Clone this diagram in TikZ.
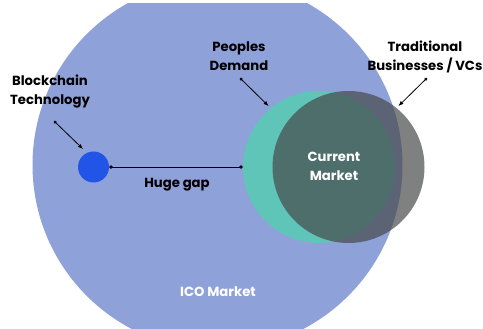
\documentclass[tikz,border=0pt]{standalone}
\usepackage{fontspec}
\setmainfont{Poppins}
\usetikzlibrary{arrows.meta}
\definecolor{icoblue}{RGB}{143,161,217}
\definecolor{chainblue}{RGB}{34,84,232}
\definecolor{demandteal}{RGB}{96,197,185}
\definecolor{tradgray}{RGB}{70,72,72}
\tikzset{
  lbl/.style={font=\bfseries\fontsize{13.2}{19}\selectfont, align=center, text=black, inner sep=0pt},
  wlbl/.style={lbl, text=white},
  pointer/.style={draw=black, line width=0.8pt, {Circle[length=3.2pt]}-{Latex[length=5pt,width=4pt]}},
  gapline/.style={draw=black, line width=0.9pt, {Circle[length=3.4pt]}-{Circle[length=3.4pt]}}
}
\begin{document}
\begin{tikzpicture}[x=1pt,y=1pt]
  % canvas: y runs upward, 329 units tall
  \useasboundingbox (0,0) rectangle (483,329);
  \fill[white] (0,0) rectangle (483,329);

  % ICO market disc, cut by the top margin
  \begin{scope}
    \clip (0,0) rectangle (483,325);
    \fill[icoblue] (217.5,164) circle[radius=185];
  \end{scope}

  % blockchain dot
  \node[circle, fill=chainblue, minimum size=31pt, inner sep=0pt] (chain) at (93.5,162) {};

  % demand and traditional circles
  \node[circle, fill=demandteal, minimum size=152pt, inner sep=0pt] (demand) at (319,162) {};
  \node[circle, fill=tradgray, fill opacity=0.69, minimum size=152pt, inner sep=0pt] (trad) at (348.5,162) {};

  % labels
  \node[wlbl] (current) at (334,162.5) {Current\\Market};
  \node[wlbl] (ico) at (218,37) {ICO Market};
  \node[lbl] (gap) at (177,144) {Huge gap};
  \node[lbl] (blt) at (50,237.5) {Blockchain\\Technology};
  \node[lbl] (dem) at (239,272.5) {Peoples\\Demand};
  \node[lbl] (tbv) at (425,272.5) {Traditional\\Businesses / VCs};

  % pointers
  \coordinate (bltS) at (54,208);
  \coordinate (bltE) at (83,180);
  \coordinate (demS) at (240,251);
  \coordinate (demE) at (268.5,223);
  \coordinate (tbvS) at (427,251);
  \coordinate (tbvE) at (398.5,223);
  \draw[pointer] (bltS) -- (bltE);
  \draw[pointer] (demS) -- (demE);
  \draw[pointer] (tbvS) -- (tbvE);

  % gap connector
  \draw[gapline] (chain.east) -- (demand.west);
\end{tikzpicture}
\end{document}
